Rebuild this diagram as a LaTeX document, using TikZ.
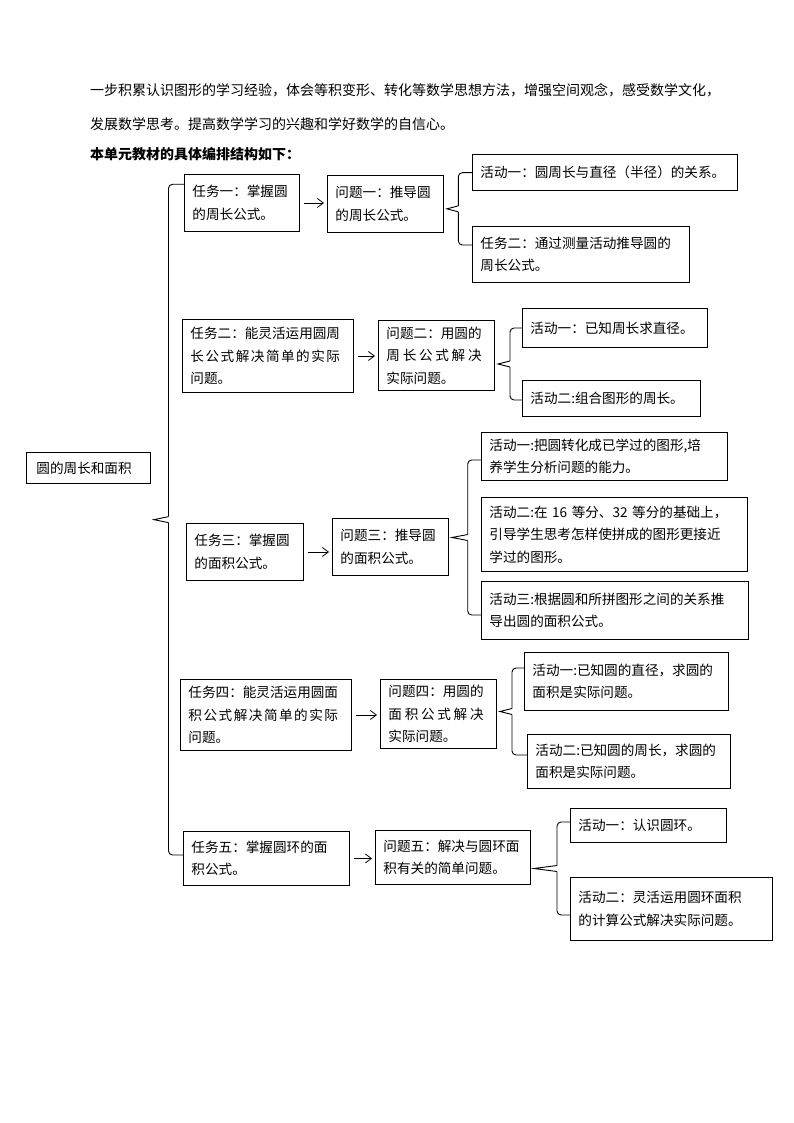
\documentclass[tikz,border=0pt]{standalone}
\usepackage{fontspec}
\setmainfont{Noto Sans CJK SC}
\usetikzlibrary{arrows.meta,calc}

\tikzset{
  kuang/.style={draw, line width=0.9pt, anchor=north west, align=left,
    inner xsep=8pt, inner ysep=3pt, font=\fontsize{13.6}{22.5}\selectfont},
  wenzi/.style={anchor=west, inner sep=0pt, font=\fontsize{14}{16}\selectfont},
  jiantou/.style={line width=0.8pt, -{Straight Barb[length=6pt,width=9pt]},
    shorten <=4pt, shorten >=3pt},
  kuo/.style={line width=0.9pt, rounded corners=4pt}
}

% brace: source, top node, bottom node, x, top y, bottom y
\newcommand{\kuohao}[6]{%
  \coordinate (kt) at (#4,#5);
  \coordinate (kb) at (#4,#6);
  \coordinate (km) at (#4,{(#5+#6)/2});
  \draw[kuo] (#2.west |- kt) -- (kt) -- ($(km)+(0,-3)$);
  \draw[kuo] (#3.west |- kb) -- (kb) -- ($(km)+(0,3)$);
  \draw[line width=0.9pt] ($(km)+(0,-3)$) -- ($(#1.east |- km)+(3,0)$) -- ($(km)+(0,3)$);
}
% spread a line to a given width
\newcommand{\lakai}[2]{\makebox[#1][s]{#2}}

\begin{document}
\begin{tikzpicture}[x=1pt,y=-1pt]
\useasboundingbox (0,0) rectangle (794,1123);

% text above the chart
\node[wenzi] (t1) at (90,90) {一步积累认识图形的学习经验，体会等积变形、转化等数学思想方法，增强空间观念，感受数学文化，};
\node[wenzi] (t2) at (90,124) {发展数学思考。提高数学学习的兴趣和学好数学的自信心。};
\node[wenzi, font=\fontsize{14}{16}\selectfont\bfseries] (t3) at (90,154) {本单元教材的具体编排结构如下：};

\node[kuang, text width=104pt, inner xsep=10pt, minimum height=31pt] (yuan) at (26,452) {圆的周长和面积};

% tasks
\node[kuang, text width=99pt, minimum height=57pt] (r1) at (184,174) {任务一：掌握圆\\的周长公式。};
\node[kuang, text width=155pt, minimum height=73pt] (r2) at (182,319) {任务二：能灵活运用圆周\\\lakai{149.6pt}{长\hfill 公\hfill 式\hfill 解\hfill 决\hfill 简\hfill 单\hfill 的\hfill 实\hfill 际}\\问题。};
\node[kuang, text width=101pt, minimum height=57pt] (r3) at (186,523) {任务三：掌握圆\\的面积公式。};
\node[kuang, text width=155pt, minimum height=71pt] (r4) at (180,679) {任务四：能灵活运用圆面\\\lakai{149.6pt}{积\hfill 公\hfill 式\hfill 解\hfill 决\hfill 简\hfill 单\hfill 的\hfill 实\hfill 际}\\问题。};
\node[kuang, text width=150pt, minimum height=54pt] (r5) at (183,831) {任务五：掌握圆环的面\\积公式。};

% questions
\node[kuang, text width=100pt, minimum height=57pt] (q1) at (327,175) {问题一：推导圆\\的周长公式。};
\node[kuang, text width=100pt, minimum height=70pt] (q2) at (378,320) {问题二：用圆的\\\lakai{95.2pt}{周\hfill 长\hfill 公\hfill 式\hfill 解\hfill 决}\\实际问题。};
\node[kuang, text width=100pt, minimum height=57pt] (q3) at (332,518) {问题三：推导圆\\的面积公式。};
\node[kuang, text width=100pt, minimum height=69pt] (q4) at (380,679) {问题四：用圆的\\\lakai{95.2pt}{面\hfill 积\hfill 公\hfill 式\hfill 解\hfill 决}\\实际问题。};
\node[kuang, text width=139pt, minimum height=54pt] (q5) at (375,830) {问题五：解决与圆环面\\积有关的简单问题。};

% activities
\node[kuang, text width=249pt, minimum height=36pt] (a11) at (472,154) {活动一：圆周长与直径（半径）的关系。};
\node[kuang, text width=201pt, minimum height=56pt] (a12) at (472,226) {任务二：通过测量活动推导圆的\\周长公式。};
\node[kuang, text width=169pt, minimum height=39pt] (a21) at (522,308) {活动一：已知周长求直径。};
\node[kuang, text width=162pt, minimum height=36pt] (a22) at (522,380) {活动二:组合图形的周长。};
\node[kuang, text width=230pt, minimum height=48pt] (a31) at (481,432) {活动一:把圆转化成已学过的图形,培\\养学生分析问题的能力。};
\node[kuang, text width=250pt, minimum height=74pt] (a32) at (481,497) {活动二:在 16 等分、32 等分的基础上，\\引导学生思考怎样使拼成的图形更接近\\学过的图形。};
\node[kuang, text width=251pt, minimum height=58pt] (a33) at (481,581) {活动三:根据圆和所拼图形之间的关系推\\导出圆的面积公式。};
\node[kuang, text width=188pt, minimum height=58pt] (a41) at (524,652) {活动一:已知圆的直径，求圆的\\面积是实际问题。};
\node[kuang, text width=187pt, minimum height=54pt] (a42) at (527,734) {活动二:已知圆的周长，求圆的\\面积是实际问题。};
\node[kuang, text width=140pt, minimum height=34pt] (a51) at (570,808) {活动一：认识圆环。};
\node[kuang, text width=186pt, minimum height=63pt] (a52) at (570,877) {活动二：灵活运用圆环面积\\的计算公式解决实际问题。};

\foreach \i in {1,...,5}
  \draw[jiantou] (r\i.east) -- (r\i.east -| q\i.west);

\kuohao{yuan}{r1}{r5}{168.5}{184.3}{855}
\kuohao{q1}{a11}{a12}{458.3}{172.7}{245}
\kuohao{q2}{a21}{a22}{510}{328}{400}
\kuohao{q3}{a31}{a33}{467.7}{460}{615}
\kuohao{q4}{a41}{a42}{512}{668}{755}
\kuohao{q5}{a51}{a52}{557}{822}{915}

\end{tikzpicture}
\end{document}
